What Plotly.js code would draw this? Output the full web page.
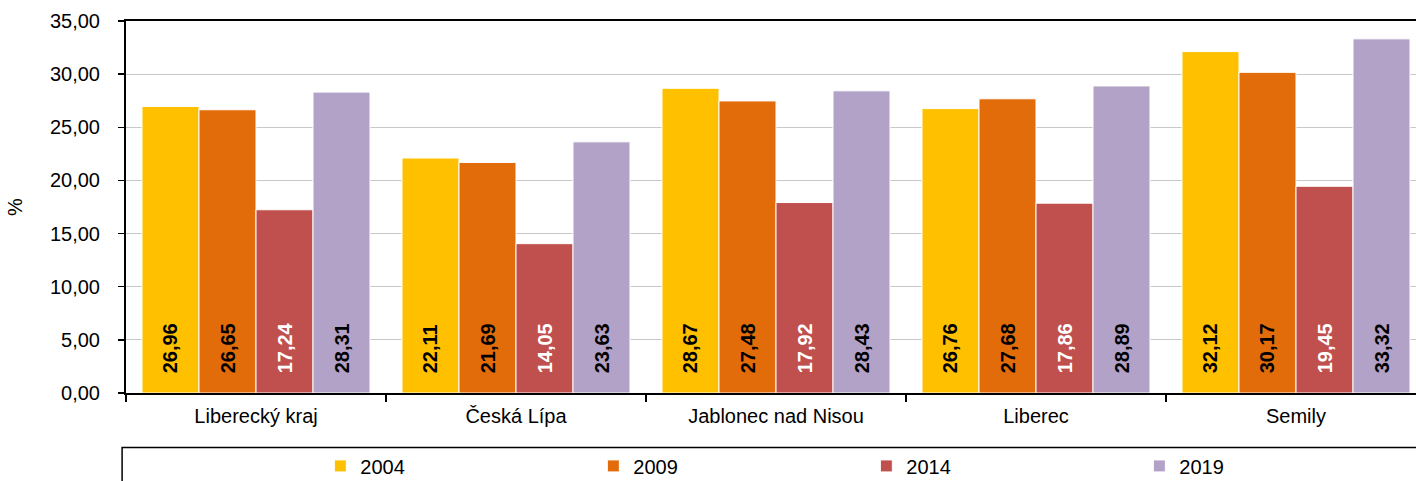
<!DOCTYPE html>
<html><head><meta charset="utf-8">
<script src="https://cdn.plot.ly/plotly-3.0.1.min.js"></script>
<style>html,body{margin:0;padding:0;overflow:hidden;width:1416px;height:481px;background:#fff}</style>
</head><body><div id="chart"></div>
<script>
const categories = ["Liberecký kraj", "Česká Lípa", "Jablonec nad Nisou", "Liberec", "Semily"];
const years = ["2004", "2009", "2014", "2019"];
const v2004 = [26.96, 22.11, 28.67, 26.76, 32.12];
const v2009 = [26.65, 21.69, 27.48, 27.68, 30.17];
const v2014 = [17.24, 14.05, 17.92, 17.86, 19.45];
const v2019 = [28.31, 23.63, 28.43, 28.89, 33.32];
const yTicks = [0, 5, 10, 15, 20, 25, 30, 35];

const series = [v2004, v2009, v2014, v2019];
const colors = ["#FFC000", "#E36C0A", "#C0504D", "#B2A2C7"];
const textColors = ["#000", "#000", "#fff", "#000"];
const fmt = v => v.toFixed(2).replace('.', ',');
const pad = '<span style="color:rgba(0,0,0,0)">0.</span>';

const traces = series.map((vals, i) => ({
  type: 'bar', name: years[i], x: categories, y: vals,
  marker: {color: colors[i], line: {color: '#fff', width: 1}},
  text: vals.map(v => pad + fmt(v)), textposition: 'inside', insidetextanchor: 'start',
  textangle: -90, cliponaxis: false,
  textfont: {family: 'Liberation Sans, Arial, sans-serif', size: 20, color: textColors[i], weight: 'bold'},
  hoverinfo: 'skip'
}));

const layout = {
  width: 1430, height: 481,
  margin: {l: 126, r: 4, t: 21, b: 88, autoexpand: false},
  paper_bgcolor: '#fff', plot_bgcolor: '#fff',
  font: {family: 'Liberation Sans, Arial, sans-serif', size: 20, color: '#000'},
  barmode: 'group', bargap: 0.123, bargroupgap: 0,
  showlegend: true,
  uniformtext: {minsize: 20, mode: 'show'},
  xaxis: {type: 'category', showline: true, linecolor: '#000', linewidth: 2, mirror: true,
    ticks: 'outside', tickson: 'boundaries', ticklen: 7, tickcolor: '#000', tickwidth: 1.5,
    ticklabelstandoff: 4, showgrid: false, tickfont: {size: 20}},
  yaxis: {range: [0, 35], tickvals: yTicks, ticktext: yTicks.map(fmt),
    showline: true, linecolor: '#000', linewidth: 2,
    ticks: 'outside', ticklen: 6, tickcolor: '#000', tickwidth: 1.5, ticklabelstandoff: 14,
    showgrid: true, gridcolor: '#c8c8c8', gridwidth: 1, zeroline: false,
    title: {text: '%', standoff: 22, font: {size: 20}}, tickfont: {size: 20}},
  legend: {orientation: 'h', x: 0.1495, xanchor: 'left', y: -0.196, yanchor: 'middle',
    entrywidth: 228, entrywidthmode: 'pixels', bgcolor: 'rgba(0,0,0,0)',
    font: {size: 20}, traceorder: 'normal'},
  shapes: [{type: 'rect', xref: 'paper', yref: 'paper', x0: -0.003, x1: 1.2, y0: -0.1465, y1: -0.35,
    line: {color: '#000', width: 1.5}, fillcolor: 'rgba(0,0,0,0)', layer: 'below'}]
};

Plotly.newPlot('chart', traces, layout, {displayModeBar: false, staticPlot: true});
</script></body></html>
